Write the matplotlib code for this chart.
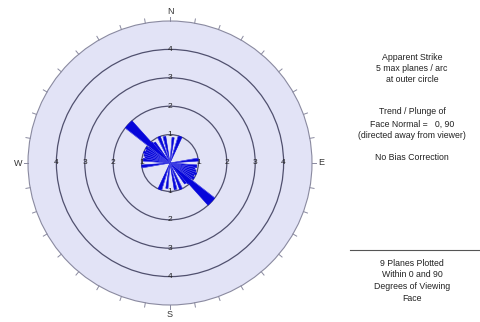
import matplotlib
matplotlib.use("Agg")
import matplotlib.pyplot as plt
from matplotlib.patches import Circle, Wedge
import numpy as np

plt.rcParams['font.family'] = ['Liberation Sans', 'DejaVu Sans']

# rose petals: apparent strike (deg from N, clockwise), bin width (deg), planes per arc
# each petal is plotted bidirectionally (strike and strike + 180)
strikes = [7, 21, 83, 97, 102.5, 107.5, 112.5, 117.5, 122.5, 127.5, 132.5, 137.5, 142.5, 133, 157, 168]
widths  = [5, 8, 6, 6, 5.5, 5.5, 5.5, 5.5, 5.5, 5.5, 5.5, 5.5, 5.5, 10, 6, 6]
counts  = [0.9, 1.0, 1.0, 0.95, 0.9, 0.95, 1.0, 0.95, 1.0, 0.92, 1.0, 0.95, 0.9, 2.0, 1.0, 0.95]

ring_values = [1, 2, 3, 4]
outer_value = 5
cardinals = ['N', 'E', 'S', 'W']

info_top = ["Apparent Strike", "5 max planes / arc", "at outer circle"]
info_mid = ["Trend / Plunge of", "Face Normal =   0, 90", "(directed away from viewer)"]
info_bias = "No Bias Correction"
info_bottom = ["9 Planes Plotted", "Within 0 and 90", "Degrees of Viewing", "Face"]

W, H = 480, 322
fig = plt.figure(figsize=(W / 100, H / 100), dpi=100)
fig.patch.set_facecolor('white')

# rose axes, centred at (170, 163) px, 28.4 px per plane
lim = 5.6
half = lim * 28.4
cx, cy = 170, 163
ax = fig.add_axes([(cx - half) / W, (H - cy - half) / H, 2 * half / W, 2 * half / H])
ax.set_xlim(-lim, lim)
ax.set_ylim(-lim, lim)
ax.set_aspect('equal')
ax.axis('off')

ax.add_patch(Circle((0, 0), outer_value, facecolor='#e2e3f6', edgecolor='#8a8aa0', lw=0.8, zorder=1))
for r in ring_values:
    ax.add_patch(Circle((0, 0), r, facecolor='none', edgecolor='#50506e', lw=0.9, zorder=2))

for s, w, c in zip(strikes, widths, counts):
    for az in (s, s + 180):
        th = 90 - az
        ax.add_patch(Wedge((0, 0), c, th - w / 2, th + w / 2, facecolor='#0606da',
                           edgecolor='#0606da', lw=0.4, zorder=3))
        # thin light seam along the petal axis, as in the original rendering
        t = np.radians(th + w / 2)
        ax.plot([0, c * np.cos(t)], [0, c * np.sin(t)], color='#9090f4', lw=0.25, zorder=3)

# ticks on outer circle every 10 deg
for az in range(0, 360, 10):
    t = np.radians(90 - az)
    ax.plot([outer_value * np.cos(t), 5.15 * np.cos(t)],
            [outer_value * np.sin(t), 5.15 * np.sin(t)], color='#8a8aa0', lw=0.7, zorder=2)

for lab, az in zip(cardinals, [0, 90, 180, 270]):
    t = np.radians(90 - az)
    ax.text(5.33 * np.cos(t), 5.33 * np.sin(t), lab, ha='center', va='center',
            fontsize=6.5, color='#333333')

for r in ring_values:
    for dx, dy in [(0, 1), (0, -1), (1, 0), (-1, 0)]:
        ax.text(dx * r, dy * r, str(r), ha='center', va='center', fontsize=6,
                color='#222222', zorder=4)

tx = 412 / W
def put(lines, y0, step=11.5):
    for i, s in enumerate(lines):
        fig.text(tx, 1 - (y0 + i * step) / H, s, ha='center', va='center',
                 fontsize=6.3, color='#222222')

put(info_top, 57)
put(info_mid, 112, 12)
put([info_bias], 158)
put(info_bottom, 263, 11.8)
fig.add_artist(plt.Line2D([350 / W, 1.0], [1 - 250 / H, 1 - 250 / H], color='#555555', lw=0.8))

fig.savefig('out.png', dpi=100)
